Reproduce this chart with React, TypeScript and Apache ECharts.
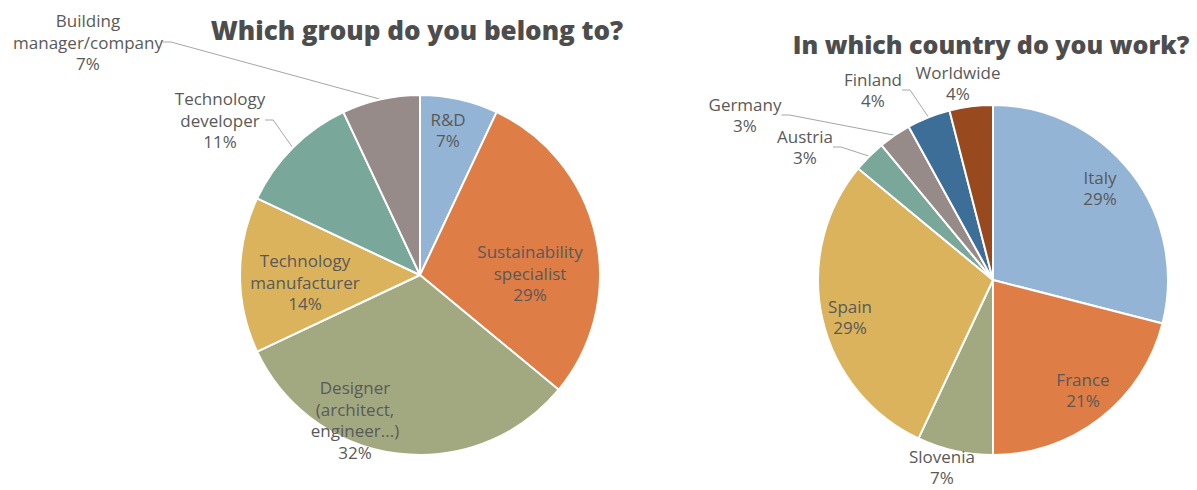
import React, { useEffect, useRef } from "react";
import * as echarts from "echarts";

// ---- Data ----
const groupTitle = "Which group do you belong to?";
const groupNames = [
  "R&D",
  "Sustainability\nspecialist",
  "Designer\n(architect,\nengineer...)",
  "Technology\nmanufacturer",
  "Technology\ndeveloper",
  "Building\nmanager/company",
];
const groupValues = [7, 29, 32, 14, 11, 7];

const countryTitle = "In which country do you work?";
const countryNames = ["Italy", "France", "Slovenia", "Spain", "Austria", "Germany", "Finland", "Worldwide"];
const countryValues = [29, 21, 7, 29, 3, 3, 4, 4];

// ---- Styles ----
const groupColors = ["#93b4d5", "#de7d45", "#a2a980", "#dbb35c", "#79a89a", "#978b8a"];
const countryColors = ["#93b4d5", "#de7d45", "#a2a980", "#dbb35c", "#79a89a", "#978b8a", "#3d6e98", "#98491d"];
const groupLabelLine = [false, false, false, false, true, true];
const countryLabelLine = [false, false, false, false, true, true, true, false];
const groupLabelPos = [
  [448, 130],
  [530, 273],
  [355, 420],
  [305, 282],
  [220, 120],
  [88, 42],
];
const countryLabelPos = [
  [1100, 188],
  [1083, 390],
  [942, 467],
  [850, 317],
  [805, 147],
  [745, 115],
  [873, 90],
  [958, 83],
];

function pieSeries(
  names: string[],
  values: number[],
  colors: string[],
  lines: boolean[],
  pos: number[][],
  center: number[],
  radius: number
) {
  return {
    type: "pie",
    center,
    radius,
    startAngle: 90,
    clockwise: true,
    avoidLabelOverlap: false,
    minShowLabelAngle: 0,
    itemStyle: { borderColor: "#ffffff", borderWidth: 2 },
    label: {
      show: true,
      color: "#595959",
      fontFamily: "Open Sans",
      fontSize: 17,
      lineHeight: 21.5,
      formatter: "{b}\n{c}%",
    },
    labelLine: {
      show: true,
      length: 10,
      length2: 8,
      lineStyle: { color: "#a6a6a6", width: 1 },
    },
    labelLayout: (p: any) => ({
      x: pos[p.dataIndex][0],
      y: pos[p.dataIndex][1],
      align: "center",
      verticalAlign: "middle",
    }),
    emphasis: { disabled: true },
    data: names.map((n, i) => ({
      name: n,
      value: values[i],
      itemStyle: { color: colors[i] },
      label: { position: lines[i] ? "outside" : "inside" },
      labelLine: { show: lines[i] },
    })),
  };
}

export default function App() {
  const ref = useRef<HTMLDivElement>(null);
  useEffect(() => {
    document.body.style.margin = "0";
    const chart = echarts.init(ref.current!, null, { renderer: "svg" });
    chart.setOption({
      animation: false,
      backgroundColor: "#ffffff",
      title: [
        {
          text: groupTitle,
          left: 417,
          top: 15,
          padding: 0,
          textAlign: "center",
          textStyle: { fontFamily: "Open Sans", fontWeight: 800, fontSize: 26, lineHeight: 30, color: "#4d4d4d" },
        },
        {
          text: countryTitle,
          left: 991,
          top: 31,
          padding: 0,
          textAlign: "center",
          textStyle: { fontFamily: "Open Sans", fontWeight: 800, fontSize: 25, lineHeight: 26, color: "#4d4d4d" },
        },
      ],
      series: [
        pieSeries(groupNames, groupValues, groupColors, groupLabelLine, groupLabelPos, [420, 275], 180),
        pieSeries(countryNames, countryValues, countryColors, countryLabelLine, countryLabelPos, [993, 280], 175),
      ],
    });
    return () => chart.dispose();
  }, []);
  return <div ref={ref} style={{ width: 1197, height: 490 }} />;
}
